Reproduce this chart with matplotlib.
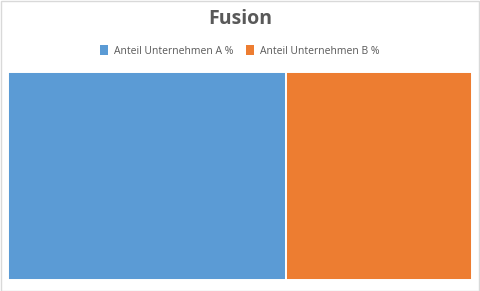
import matplotlib
matplotlib.use("Agg")
import matplotlib.pyplot as plt
from matplotlib.patches import Rectangle

categories = ["Fusion"]
series_names = ["Anteil Unternehmen A %", "Anteil Unternehmen B %"]
values_a = [60]
values_b = [40]
colors = ["#5b9bd5", "#ed7d31"]

plt.rcParams['font.family'] = ['Open Sans', 'DejaVu Sans']

fig = plt.figure(figsize=(4.8, 2.91), dpi=100)
W, H = 480, 291
ax = fig.add_axes([7.8 / W, 1 - 279.8 / H, (472.2 - 7.8) / W, (279.8 - 72.2) / H])

left = 0
handles = []
for name, vals, col in zip(series_names, [values_a, values_b], colors):
    b = ax.barh(categories, vals, left=left, color=col, height=1.0,
                edgecolor="white", linewidth=1.4, label=name)
    handles.append(b)
    left = vals[0] + left

ax.set_xlim(0, sum(values_a) + sum(values_b))
ax.set_ylim(-0.5, 0.5)
ax.axis("off")

fig.text(0.5, 1 - 18.5 / H, "Fusion", ha="center", va="center",
         fontsize=14, fontweight="bold", color="#595959")

leg = fig.legend(handles=handles, labels=series_names, loc="center",
                 bbox_to_anchor=(0.5, 1 - 51 / H), ncol=2, frameon=False,
                 fontsize=7.5, labelcolor="#595959", handlelength=0.75,
                 handleheight=1.0, handletextpad=0.6, columnspacing=1.2)
for h in leg.legend_handles:
    h.set_edgecolor("none")

fig.patches.append(Rectangle((0.5 / W, 0.5 / H), 1 - 1.5 / W, 1 - 1.5 / H,
                             transform=fig.transFigure, fill=False,
                             edgecolor="#d9d9d9", linewidth=1))

fig.savefig("out.png", dpi=100, facecolor="white")
